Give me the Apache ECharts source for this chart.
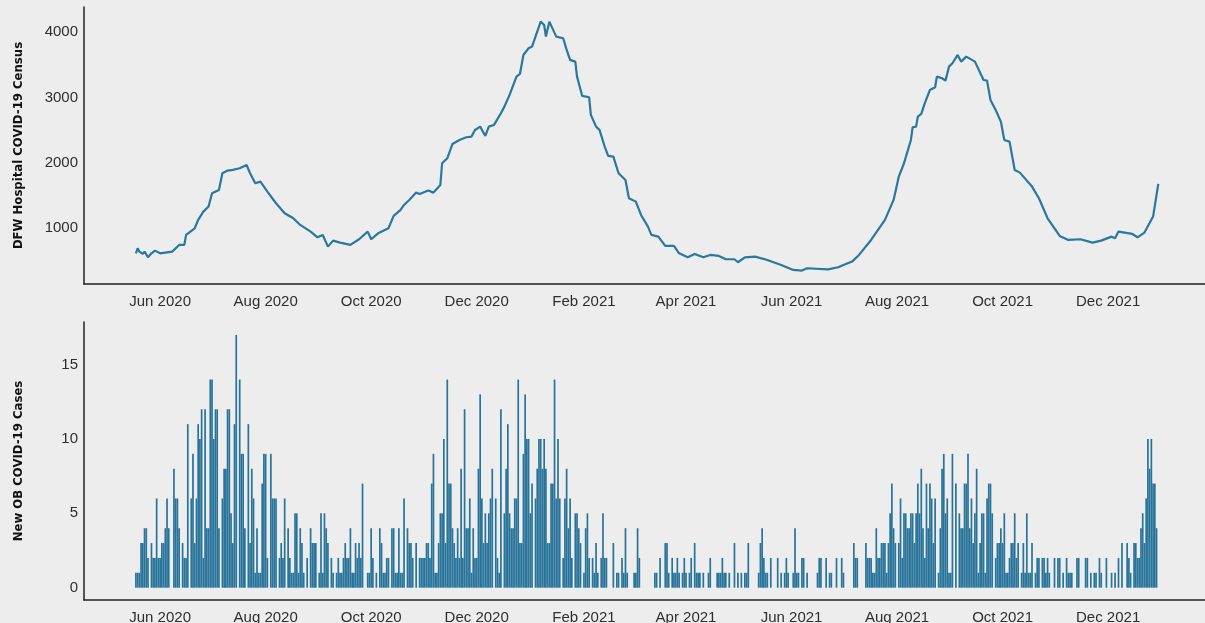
<!DOCTYPE html>
<html>
<head>
<meta charset="utf-8">
<script src="https://cdn.jsdelivr.net/npm/echarts@6/dist/echarts.min.js"></script>
<style>
  html, body { margin: 0; padding: 0; background: #ededed; }
  #main { width: 1205px; height: 623px; }
</style>
</head>
<body>
<div id="main"></div>
<script>
// x axis labels (both panels)
var tickDates = ['2020-06-01', '2020-08-01', '2020-10-01', '2020-12-01', '2021-02-01',
                 '2021-04-01', '2021-06-01', '2021-08-01', '2021-10-01', '2021-12-01'];
var tickLabels = ['Jun 2020', 'Aug 2020', 'Oct 2020', 'Dec 2020', 'Feb 2021',
                  'Apr 2021', 'Jun 2021', 'Aug 2021', 'Oct 2021', 'Dec 2021'];

// top panel: DFW hospital census
var censusDates = [
  '2020-05-18','2020-05-19','2020-05-20','2020-05-22','2020-05-23','2020-05-25','2020-05-27','2020-05-29',
  '2020-06-01','2020-06-04','2020-06-08','2020-06-12','2020-06-15','2020-06-16','2020-06-21','2020-06-23',
  '2020-06-26','2020-06-29','2020-07-01','2020-07-05','2020-07-07','2020-07-10','2020-07-13','2020-07-17',
  '2020-07-21','2020-07-23','2020-07-26','2020-07-29','2020-08-02','2020-08-07','2020-08-12','2020-08-17',
  '2020-08-21','2020-08-27','2020-08-31','2020-09-03','2020-09-06','2020-09-09','2020-09-13','2020-09-19',
  '2020-09-24','2020-09-29','2020-10-01','2020-10-05','2020-10-11','2020-10-14','2020-10-18','2020-10-20',
  '2020-10-23','2020-10-27','2020-10-29','2020-11-03','2020-11-06','2020-11-10','2020-11-11','2020-11-14',
  '2020-11-17','2020-11-21','2020-11-25','2020-11-28','2020-11-30','2020-12-03','2020-12-06','2020-12-08',
  '2020-12-11','2020-12-15','2020-12-17','2020-12-20','2020-12-24','2020-12-26','2020-12-28','2020-12-31',
  '2021-01-02','2021-01-04','2021-01-07','2021-01-09','2021-01-10','2021-01-12','2021-01-16','2021-01-20',
  '2021-01-22','2021-01-24','2021-01-27','2021-01-28','2021-01-31','2021-02-04','2021-02-05','2021-02-08',
  '2021-02-10','2021-02-13','2021-02-15','2021-02-18','2021-02-21','2021-02-25','2021-02-27','2021-03-03',
  '2021-03-06','2021-03-10','2021-03-12','2021-03-16','2021-03-20','2021-03-25','2021-03-28','2021-04-02',
  '2021-04-06','2021-04-11','2021-04-15','2021-04-20','2021-04-24','2021-04-29','2021-05-01','2021-05-05',
  '2021-05-11','2021-05-18','2021-05-26','2021-06-02','2021-06-07','2021-06-10','2021-06-22','2021-06-28',
  '2021-07-01','2021-07-06','2021-07-10','2021-07-17','2021-07-25','2021-07-30','2021-08-02','2021-08-05',
  '2021-08-07','2021-08-09','2021-08-10','2021-08-12','2021-08-13','2021-08-15','2021-08-17','2021-08-20',
  '2021-08-23','2021-08-24','2021-08-27','2021-08-29','2021-08-31','2021-09-02','2021-09-05','2021-09-07',
  '2021-09-10','2021-09-15','2021-09-20','2021-09-22','2021-09-24','2021-09-27','2021-09-30','2021-10-02',
  '2021-10-05','2021-10-08','2021-10-11','2021-10-18','2021-10-22','2021-10-27','2021-11-03','2021-11-08',
  '2021-11-15','2021-11-22','2021-11-27','2021-12-03','2021-12-05','2021-12-07','2021-12-15','2021-12-18',
  '2021-12-22','2021-12-27','2021-12-30'
];
var censusValues = [
  617, 694, 643, 607, 643, 556, 617, 658,
  617, 628, 643, 745, 745, 898, 1000, 1128,
  1255, 1332, 1536, 1587, 1842, 1883, 1893, 1918,
  1969, 1842, 1689, 1714, 1561, 1383, 1230, 1153,
  1051, 949, 862, 898, 719, 811, 781, 745,
  832, 949, 832, 923, 1000, 1189, 1281, 1357,
  1434, 1546, 1526, 1577, 1546, 1663, 1995, 2071,
  2291, 2352, 2393, 2403, 2505, 2556, 2413, 2556,
  2582, 2760, 2862, 3041, 3321, 3362, 3653, 3755,
  3781, 3934, 4163, 4112, 3934, 4163, 3934, 3908,
  3730, 3577, 3551, 3321, 3026, 3005, 2735, 2556,
  2505, 2250, 2107, 2097, 1842, 1740, 1459, 1408,
  1204, 1026, 898, 872, 730, 730, 617, 556,
  607, 556, 592, 577, 526, 526, 480, 556,
  566, 515, 439, 362, 352, 388, 372, 403,
  439, 490, 592, 821, 1128, 1434, 1791, 1995,
  2173, 2352, 2546, 2556, 2709, 2750, 2913, 3117,
  3158, 3321, 3296, 3260, 3474, 3526, 3653, 3551,
  3628, 3551, 3270, 3260, 2964, 2811, 2633, 2352,
  2327, 1893, 1852, 1638, 1459, 1153, 883, 821,
  832, 781, 811, 872, 847, 949, 913, 862,
  934, 1179, 1679
];

// bottom panel: daily new OB cases, one value per day from caseStart
var caseStart = '2020-05-18';
var newCases = [
  1,1,1,3,3,4,4,2,0,3,2,2,6,2,
  2,3,3,4,6,4,0,0,8,6,  6,4,0,3,2,2,11,0,6,9,
  3,6,11,10,12,2,12,4,4,14,  14,10,12,12,4,0,6,8,8,12,
  12,5,3,11,17,0,14,9,9,4,  0,11,3,8,6,1,4,1,1,7,
  9,9,2,0,9,6,6,6,0,2,  3,2,6,0,4,2,1,1,5,5,
  1,4,3,1,0,2,0,4,3,3,  3,0,1,5,1,5,4,3,0,2,
  1,0,1,2,1,1,2,3,2,2,  4,1,1,3,2,3,2,7,0,0,
  1,1,4,2,0,1,0,4,3,1,  1,2,2,0,4,4,1,1,4,1,
  1,6,0,4,3,3,2,0,3,0,  2,2,2,2,3,3,2,7,9,1,
  1,3,5,5,10,3,14,7,7,4,  3,2,4,2,8,2,12,4,4,6,
  1,4,2,2,8,13,6,3,5,3,  5,6,8,0,6,2,1,12,0,5,
  8,11,5,4,4,6,6,14,3,3,  9,13,10,10,5,7,0,6,8,10,
  10,8,10,8,3,3,7,7,14,6,  10,6,0,2,6,8,4,6,2,0,
  5,5,4,3,0,1,4,5,2,0,  2,1,3,1,0,2,5,2,2,0,
  0,0,3,0,1,1,0,2,1,4,  1,0,0,0,1,1,4,2,0,0,
  0,0,0,0,0,0,1,1,0,2,  0,0,3,3,1,0,2,1,1,2,
  1,0,1,2,1,0,1,2,0,3,  1,1,1,0,1,0,0,1,2,0,
  0,0,1,1,1,2,1,1,0,1,  0,0,3,0,1,0,1,0,1,1,
  3,0,0,0,0,0,1,3,4,2,  1,1,0,2,0,0,0,2,0,1,
  0,1,2,1,0,0,1,4,1,1,  0,2,2,0,1,0,0,0,0,0,
  1,2,2,0,0,2,0,1,1,0,  0,2,0,0,2,1,0,0,0,0,
  0,3,2,2,0,0,0,0,3,2,  2,2,1,1,4,2,2,3,3,3,
  1,3,5,7,4,3,0,3,6,2,  5,5,4,4,5,5,3,5,7,5,
  8,4,2,7,4,7,6,3,6,0,  1,4,8,9,5,6,1,1,9,0,
  7,0,5,4,4,7,7,9,4,6,  3,5,8,1,3,5,5,1,6,7,
  7,5,0,2,3,3,4,3,5,1,  1,2,3,3,5,2,3,0,1,3,
  1,5,1,1,3,0,1,2,2,0,  2,2,1,2,1,0,0,2,0,2,
  2,0,1,0,2,1,1,1,0,0,  2,2,0,0,0,2,2,0,1,0,
  1,1,0,2,1,0,0,2,0,0,  1,0,1,0,2,0,3,0,0,3,
  2,1,0,3,3,2,2,4,5,3,  6,10,8,10,7,7,4
];

function toTime(s, addDays) {
  var p = s.split('-');
  return new Date(+p[0], +p[1] - 1, +p[2] + (addDays || 0)).getTime();
}

var tickTimes = tickDates.map(function (s) { return toTime(s); });
var censusData = censusDates.map(function (s, i) { return [toTime(s), censusValues[i]]; });
var caseData = newCases.map(function (v, i) { return [toTime(caseStart, i), v]; });

var xMin = toTime('2020-04-18');
var xMax = toTime('2022-01-26');

var textColor = '#2e2e2e';
var axisColor = '#222';
var blue = '#2a77a0';
var titleFont = "'DejaVu Sans Condensed', 'Liberation Sans Narrow', 'Roboto Condensed', 'Liberation Sans', sans-serif";

function monthLabel(v) {
  for (var i = 0; i < tickTimes.length; i++) {
    if (Math.abs(tickTimes[i] - v) < 43200000) return tickLabels[i];
  }
  return '';
}

// plain value axis in milliseconds, labels only at the month starts
function makeX(gridIndex) {
  return {
    type: 'value', gridIndex: gridIndex, min: xMin, max: xMax, scale: true,
    axisLine: { show: true, onZero: false, lineStyle: { color: axisColor, width: 1.5 } },
    axisTick: { show: false },
    splitLine: { show: false },
    axisLabel: {
      customValues: tickTimes, formatter: monthLabel,
      color: textColor, fontSize: 15, fontFamily: 'Liberation Sans', margin: 10
    }
  };
}

function makeY(gridIndex, min, max, labels, name) {
  return {
    type: 'value', gridIndex: gridIndex, min: min, max: max,
    name: name, nameLocation: 'middle', nameGap: 59,
    nameTextStyle: { color: '#111', fontSize: 13, fontWeight: 'bold', fontFamily: titleFont },
    axisLine: { show: true, onZero: false, lineStyle: { color: axisColor, width: 1.5 } },
    axisTick: { show: false },
    splitLine: { show: false },
    axisLabel: {
      customValues: labels, color: textColor, fontSize: 15,
      fontFamily: 'Liberation Sans', margin: 6,
      formatter: function (v) { return String(v); }
    }
  };
}

var myChart = echarts.init(document.getElementById('main'));
var option = {
  backgroundColor: '#ededed',
  animation: false,
  grid: [
    { left: 84, right: 0, top: 7, height: 277, outerBoundsMode: 'none', containLabel: false },
    { left: 84, right: 0, top: 322, height: 278, outerBoundsMode: 'none', containLabel: false }
  ],
  xAxis: [makeX(0), makeX(1)],
  yAxis: [
    makeY(0, 147, 4387, [1000, 2000, 3000, 4000], 'DFW Hospital COVID-19 Census'),
    makeY(1, -0.83, 17.87, [0, 5, 10, 15], 'New OB COVID-19 Cases')
  ],
  series: [
    {
      type: 'line', xAxisIndex: 0, yAxisIndex: 0,
      data: censusData, showSymbol: false,
      lineStyle: { color: blue, width: 2.2 }
    },
    {
      type: 'bar', xAxisIndex: 1, yAxisIndex: 1,
      data: caseData, barWidth: 1.7,
      itemStyle: { color: '#27739a' }
    }
  ]
};
myChart.setOption(option);
</script>
</body>
</html>
